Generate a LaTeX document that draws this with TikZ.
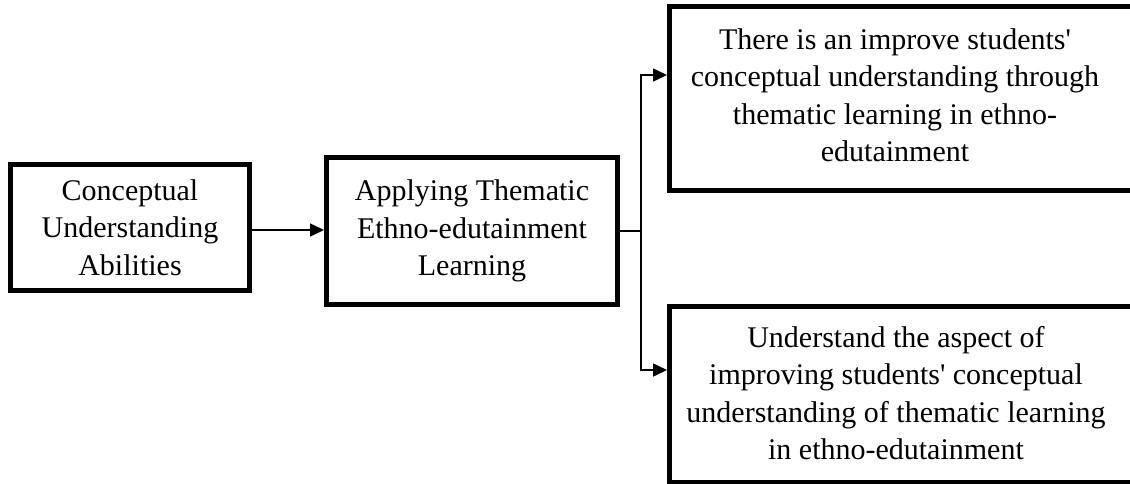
\documentclass[tikz,border=0pt]{standalone}
\usepackage{fontspec}
\setmainfont{Liberation Serif}
\usetikzlibrary{arrows.meta}
\usetikzlibrary{positioning}

\tikzset{
  box/.style={draw, line width=5pt, align=center, font=\fontsize{30}{37.5}\selectfont},
  txt/.style={align=center, font=\fontsize{30}{37.5}\selectfont},
  link/.style={line width=1.5pt},
  arr/.style={link, -{Triangle[length=14pt,width=13pt]}}
}

\begin{document}
\begin{tikzpicture}[x=1pt, y=-1pt]
        \useasboundingbox (0,0) rectangle (1130,483);
        \node [box, minimum width=239pt, minimum height=126pt] (abil) at (130,227.5) {Conceptual\\Understanding\\Abilities};
        \node [box, minimum width=291pt, minimum height=147pt] (apply) at (472,231) {Applying Thematic\\Ethno-edutainment\\Learning};
        \node [box, minimum width=480pt, minimum height=184pt, anchor=west] (impr) at (667,98) {};
        \node [txt] (imprtxt) at (895,95) {There is an improve students\textquotesingle\\conceptual understanding through\\thematic learning in ethno-\\edutainment};
        \node [box, minimum width=480pt, minimum height=176pt, anchor=west] (aspect) at (667,394) {};
        \node [txt] (aspecttxt) at (896,393) {Understand the aspect of\\improving students\textquotesingle{} conceptual\\understanding of thematic learning\\in ethno-edutainment};
        \coordinate (fork) at (641,231);
        \draw [arr] (abil.east |- 0,230) -- (apply.west |- 0,230);
        \draw [link] (apply.east) -- (fork);
        \draw [arr] (fork) |- ([yshift=23pt]impr.west);
        \draw [arr] (fork) |- ([yshift=24pt]aspect.west);
    \end{tikzpicture}
\end{document}
